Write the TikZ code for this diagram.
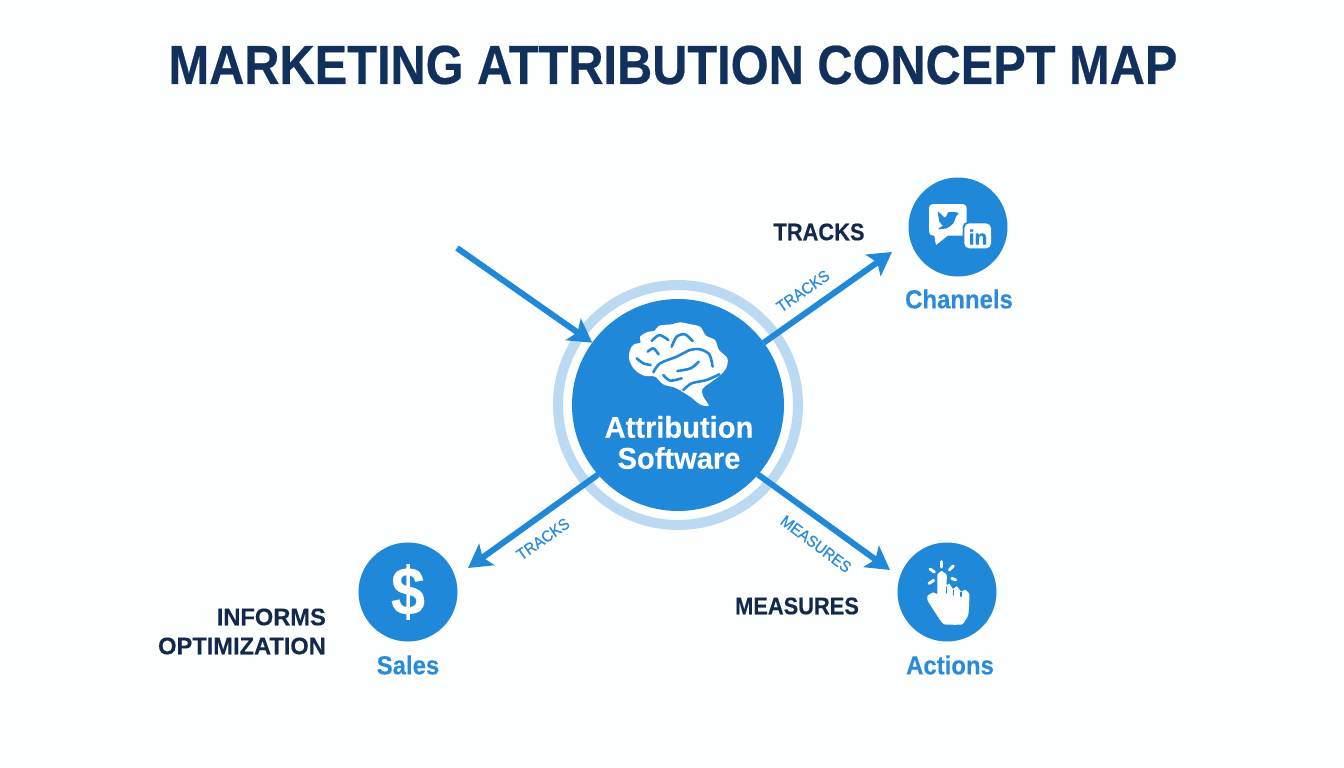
\documentclass[tikz,border=0pt]{standalone}
\usepackage{fontspec}
\setmainfont{Liberation Sans}
\usetikzlibrary{arrows.meta}
\definecolor{bluemain}{HTML}{2088D8}
\definecolor{bluetxt}{HTML}{2A8BD9}
\definecolor{ringc}{HTML}{BBDAF2}
\definecolor{navy}{HTML}{12305C}
\definecolor{darklab}{HTML}{13294B}
\definecolor{bgc}{HTML}{FDFEFE}
\newcommand{\fsz}[1]{\fontsize{#1}{#1}\selectfont}
\newcommand{\boldfx}[2]{\bfseries\addfontfeature{FakeStretch=#1,FakeBold=#2}}
\tikzset{
  disc/.style={circle,fill=bluemain,inner sep=0pt,outer sep=0pt,minimum size=99pt},
  conn/.style={draw=bluemain,line width=6pt,-{Stealth[length=23pt,width=26pt,inset=5pt]}},
  caption/.style={inner sep=0pt,text=bluetxt,font=\fsz{26}\boldfx{0.92}{0.25}},
  darklabel/.style={inner sep=0pt,text=darklab,font=\fsz{24}\boldfx{0.91}{0.25}},
  darkwide/.style={inner sep=0pt,text=darklab,anchor=east,font=\fsz{24}\boldfx{0.985}{0.25}},
  edgelabel/.style={inner sep=0pt,text=bluetxt,font=\fsz{16}\addfontfeature{FakeStretch=0.93,FakeBold=0.6}},
  fold/.style={draw=bluemain,line width=2.6pt,line cap=round,line join=round},
  ray/.style={draw=white,line width=3pt,line cap=round}
}
\begin{document}
\begin{tikzpicture}[x=1pt,y=-1pt]
\fill[bgc] (0,0) rectangle (1344,768);
\useasboundingbox (0,0) rectangle (1344,768);
\node[inner sep=0pt,text=navy,font=\fsz{55}\boldfx{0.886}{0.4}] (title) at (673,65) {MARKETING ATTRIBUTION CONCEPT MAP};
% centre
\node[circle,draw=ringc,line width=10pt,inner sep=0pt,minimum size=240pt] (ring) at (678,405) {};
\node[disc,minimum size=212pt] (main) at (678,405) {};
\node[disc] (chan) at (958,227) {};
\node[disc] (act) at (947,592) {};
\node[disc] (sales) at (408,592) {};
% brain
\begin{scope}[shift={(620,315)},scale=1/3]
\fill[white] plot[smooth cycle,tension=0.6] coordinates {
 (30,105) (42,88) (62,82) (60,65) (85,50) (103,48) (118,32) (155,28) (180,22) (212,28) (240,35) (258,62) (285,75) (297,105) (322,130) (318,160) (298,183) (268,205) (247,222) (250,245) (266,272) (240,268) (215,248) (190,232) (165,218) (130,208) (105,185) (75,183) (45,165) (28,135)};
\draw[fold] plot[smooth] coordinates {(95,78) (118,60) (145,75)};
\draw[fold] plot[smooth] coordinates {(155,95) (170,65) (195,58) (218,78)};
\draw[fold] plot[smooth] coordinates {(83,110) (100,100) (116,118)};
\draw[fold] plot[smooth] coordinates {(100,172) (120,145) (170,125) (210,105) (240,103) (268,118) (278,155)};
\draw[fold] plot[smooth] coordinates {(50,130) (70,145) (92,150)};
\draw[fold] plot[smooth] coordinates {(172,168) (212,160) (236,140)};
\draw[fold] plot[smooth] coordinates {(130,180) (150,197) (185,190)};
\draw[fold] plot[smooth] coordinates {(190,225) (215,205) (260,195) (298,178)};
\end{scope}
\node[inner sep=0pt,text=white,font=\fsz{30}\boldfx{0.97}{0.2}] (mainA) at (679,427) {Attribution};
\node[inner sep=0pt,text=white,font=\fsz{30}\boldfx{0.97}{0.2}] (mainB) at (679,458) {Software};
% channels icon
\begin{scope}[shift={(920,195)},scale=1/3]
\fill[white,rounded corners=4pt] (27,27) rectangle (140,122);
\fill[white] (42,118) -- (48,150) -- (88,118) -- cycle;
\fill[bluemain] plot[smooth cycle,tension=0.3] coordinates {(54,50) (75,68) (85,52) (100,51) (116,54) (108,65) (100,85) (80,100) (54,102) (68,92) (58,80)};
\fill[bluemain,rounded corners=5pt] (128,81) rectangle (217,164);
\fill[white,rounded corners=5pt] (133,85) rectangle (213,160);
\end{scope}
\node[inner sep=0pt,text=bluemain,font=\fsz{21}\boldfx{1}{0.2}] (inlogo) at (978,237) {in};
% hand icon
\begin{scope}[shift={(915,555)},scale=1/3]
\fill[white] plot[smooth cycle,tension=0.25] coordinates {
 (80,48) (67,60) (67,116) (55,112) (38,122) (38,137) (72,190) (88,208) (142,208) (160,178) (163,118) (150,104) (139,110) (125,94) (114,102) (103,86) (95,90) (95,60)};
\draw[bluemain,line width=1.3pt,line cap=round] (95,96) -- (95,114);
\draw[bluemain,line width=1.3pt,line cap=round] (115,106) -- (115,120);
\draw[bluemain,line width=1.3pt,line cap=round] (138,112) -- (138,124);
\draw[ray] (80,20) -- (80,36);
\draw[ray] (45,42) -- (58,51);
\draw[ray] (115,33) -- (103,45);
\draw[ray] (42,85) -- (56,76);
\draw[ray] (110,70) -- (122,75);
\end{scope}
\node[inner sep=0pt,text=white,font=\fsz{68}\boldfx{0.9}{0.2}] (dollar) at (408,592) {\$};
% connector ends
\coordinate (freeA) at (457,248);
\coordinate (chanIn) at (892,252);
\coordinate (actIn) at (890,570);
\coordinate (salesIn) at (468,568);
\draw[conn] (freeA) -- (main.144);
\draw[conn] (main.36) -- (chanIn);
\draw[conn] (main.-41) -- (actIn);
\draw[conn] (main.221) -- (salesIn);
% labels
\node[caption] (capC) at (959,299) {Channels};
\node[caption] (capS) at (408,665) {Sales};
\node[caption] (capA) at (950,665) {Actions};
\node[darklabel] (l1) at (819,232) {TRACKS};
\node[darklabel] (l2) at (797,606) {MEASURES};
\node[darkwide] (l3) at (326,617) {INFORMS};
\node[darkwide] (l4) at (326,646) {OPTIMIZATION};
\node[edgelabel,rotate=35] (e1) at (803,291) {TRACKS};
\node[edgelabel,rotate=35] (e2) at (543,539) {TRACKS};
\node[edgelabel,rotate=-37] (e3) at (816,544) {MEASURES};
\end{tikzpicture}
\end{document}
